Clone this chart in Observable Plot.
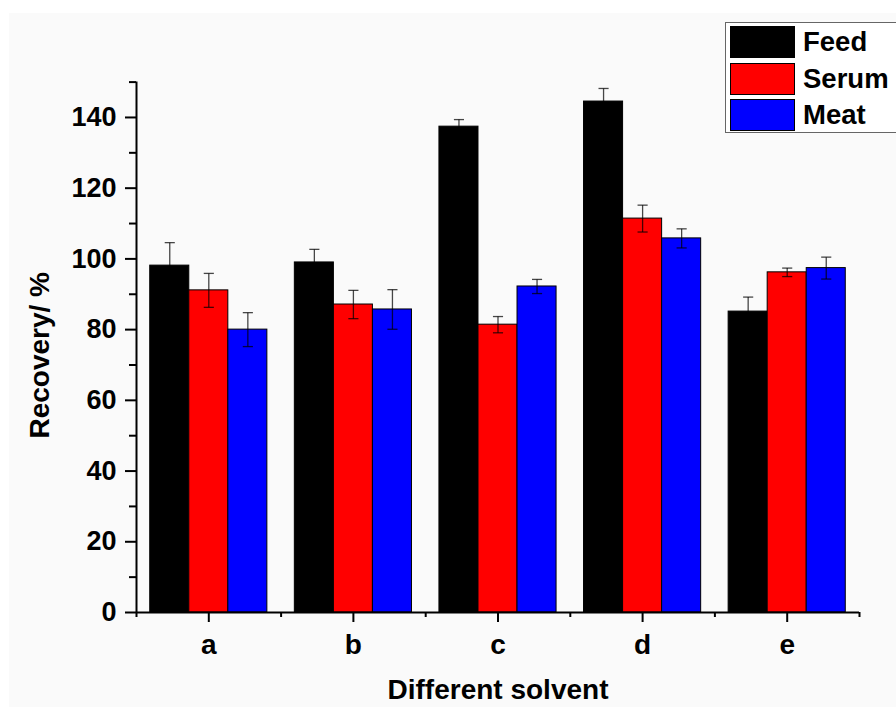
<!DOCTYPE html>
<html>
<head>
<meta charset="utf-8">
<script src="https://cdn.jsdelivr.net/npm/d3@7"></script>
<script src="https://cdn.jsdelivr.net/npm/@observablehq/plot@0.6"></script>
<style>
  html, body { margin: 0; padding: 0; background: #ffffff; overflow: hidden; }
  #wrap { position: relative; width: 896px; height: 707px; }
  #bg { position: absolute; left: 9px; top: 13px; right: 0; bottom: 0; background: #fafafa; }
  #chart { position: absolute; left: 0; top: 0; }
  #legend { position: absolute; left: 725px; top: 22px; width: 190px; height: 109px;
    border: 1.5px solid #666; background: #ffffff; font-family: "Liberation Sans", Arial, sans-serif; font-weight: bold; }
  .row { position: absolute; left: 4px; height: 32px; display: flex; align-items: center; }
  .sw { width: 63px; height: 30px; border: 1px solid #000; box-sizing: content-box; }
  .lab { margin-left: 8px; font-size: 27.5px; color: #000; }
</style>
</head>
<body>
<div id="wrap">
  <div id="bg"></div>
  <div id="chart"></div>
  <div id="legend"></div>
</div>
<script>
const categories = ["a", "b", "c", "d", "e"];
const seriesNames = ["Feed", "Serum", "Meat"];
const seriesColors = ["#000000", "#ff0000", "#0000ff"];
const feed = [98.1, 99.0, 137.4, 144.5, 85.1];
const feedErr = [6.5, 3.7, 2.0, 3.7, 4.1];
const serum = [91.1, 87.1, 81.4, 111.4, 96.2];
const serumErr = [4.8, 4.0, 2.3, 3.8, 1.2];
const meat = [80.0, 85.7, 92.2, 105.8, 97.4];
const meatErr = [4.8, 5.6, 2.0, 2.7, 3.1];
const yMajorTicks = [0, 20, 40, 60, 80, 100, 120, 140];
const yMinorTicks = [10, 30, 50, 70, 90, 110, 130, 150];

const values = [feed, serum, meat];
const errs = [feedErr, serumErr, meatErr];
const groupPad = 0.095, barW = 0.27;
const rows = [];
categories.forEach((c, i) => {
  seriesNames.forEach((s, j) => {
    const x1 = i + groupPad + j * barW;
    rows.push({cat: c, series: s, x1, x2: x1 + barW, xc: x1 + barW / 2,
      v: values[j][i], e: errs[j][i], color: seriesColors[j]});
  });
});

const font = "Liberation Sans, Arial, sans-serif";
const errStyle = {stroke: "#000", strokeOpacity: 0.72, strokeWidth: 1.3};
const chart = Plot.plot({
  width: 896, height: 707,
  marginLeft: 136, marginRight: 37, marginTop: 81.6, marginBottom: 95,
  style: {background: "transparent", fontFamily: font, fontWeight: "bold", color: "#000"},
  x: {type: "linear", domain: [0, 5], axis: null},
  y: {domain: [0, 150], axis: null},
  marks: [
    Plot.rectY(rows, {x1: "x1", x2: "x2", y1: 0, y2: "v", fill: d => d.color, stroke: "#000", strokeWidth: 1}),
    Plot.link(rows, {x1: "xc", x2: "xc", y1: d => d.v - d.e, y2: d => d.v + d.e, ...errStyle}),
    Plot.link(rows, {x1: d => d.xc - 0.035, x2: d => d.xc + 0.035, y1: d => d.v + d.e, y2: d => d.v + d.e, ...errStyle}),
    Plot.link(rows, {x1: d => d.xc - 0.035, x2: d => d.xc + 0.035, y1: d => d.v - d.e, y2: d => d.v - d.e, ...errStyle}),
    Plot.axisY({ticks: yMajorTicks, tickSize: 11, tickPadding: 9, strokeWidth: 2, fontSize: 27, label: null, tickFormat: d => String(d)}),
    Plot.axisY({ticks: yMinorTicks, tickSize: 7, strokeWidth: 2, tickFormat: () => "", label: null}),
    Plot.axisX({ticks: categories.map((c, i) => i + 0.5), tickFormat: (d) => categories[Math.floor(d)], tickSize: 10, tickPadding: 12, strokeWidth: 2, fontSize: 28, label: null}),
    Plot.axisX({ticks: d3.range(0, 6), tickSize: 5, strokeWidth: 2, tickFormat: () => "", label: null}),
    Plot.ruleX([0], {y1: 0, y2: 150, stroke: "#000", strokeWidth: 2}),
    Plot.ruleY([0], {x1: 0, x2: 5, stroke: "#000", strokeWidth: 2}),
    Plot.text(["Recovery/ %"], {frameAnchor: "left", textAnchor: "middle", dx: -96, dy: 8, rotate: -90, fontSize: 28, fontWeight: "bold", fill: "#000"}),
    Plot.text(["Different solvent"], {frameAnchor: "bottom", textAnchor: "middle", dy: 78, lineAnchor: "middle", fontSize: 28, fontWeight: "bold", fill: "#000"})
  ]
});
document.getElementById("chart").appendChild(chart);

const legend = document.getElementById("legend");
seriesNames.forEach((s, j) => {
  const r = document.createElement("div");
  r.className = "row";
  r.style.top = (3 + j * 36.5) + "px";
  const sw = document.createElement("div");
  sw.className = "sw";
  sw.style.background = seriesColors[j];
  const lab = document.createElement("span");
  lab.className = "lab";
  lab.textContent = s;
  r.appendChild(sw); r.appendChild(lab);
  legend.appendChild(r);
});
</script>
</body>
</html>
